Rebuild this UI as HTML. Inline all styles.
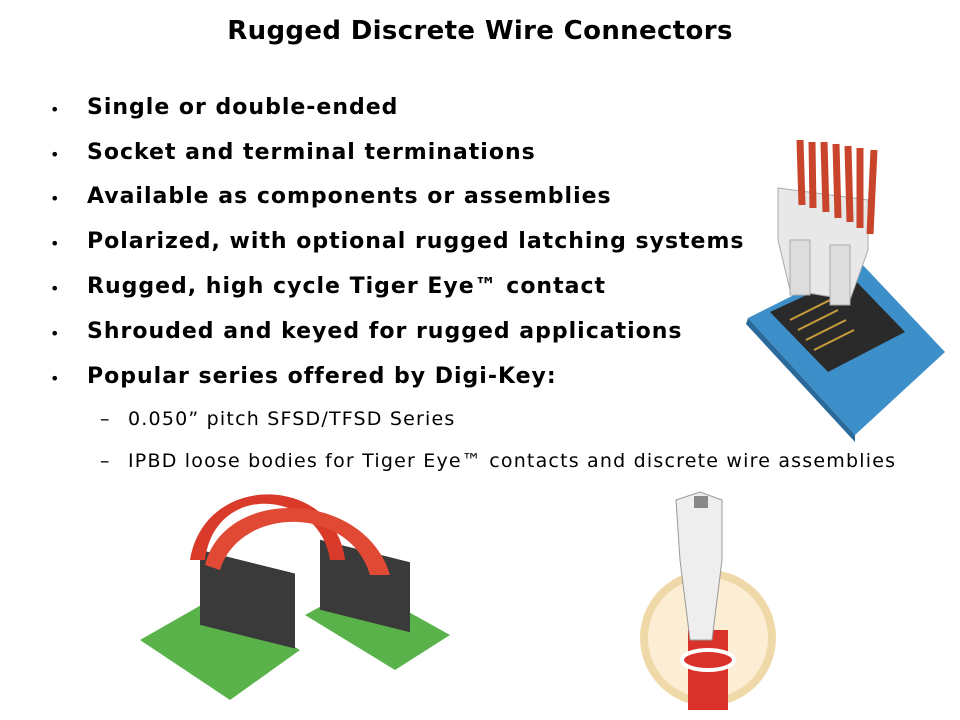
<!DOCTYPE html>
<html><head><meta charset="utf-8"><style>
html,body{margin:0;padding:0;background:#fff;}
body{width:960px;height:720px;position:relative;overflow:hidden;font-family:"DejaVu Sans","Liberation Sans",sans-serif;color:#000;}
.t{position:absolute;left:0;width:960px;text-align:center;top:16px;font-size:26px;font-weight:bold;letter-spacing:0.35px;}
.b{position:absolute;left:87px;font-size:22px;font-weight:bold;white-space:nowrap;letter-spacing:1px;}
.d{position:absolute;left:50px;font-size:16px;}
.s{position:absolute;left:128px;font-size:19px;white-space:nowrap;letter-spacing:1.2px;}
.sd{position:absolute;left:100px;font-size:19px;}
svg{position:absolute;left:0;top:0;}
</style></head><body>
<svg width="960" height="720">
 <polygon points="748,318 860,262 945,352 855,435" fill="#3d8fc9"/>
 <polygon points="748,318 855,435 855,442 746,324" fill="#2a6a9a"/>
 <polygon points="770,312 850,275 905,332 828,372" fill="#2a2a2a"/>
 <g stroke="#c9a040" stroke-width="2">
  <line x1="790" y1="320" x2="830" y2="300"/><line x1="798" y1="330" x2="838" y2="310"/>
  <line x1="806" y1="340" x2="846" y2="320"/><line x1="814" y1="350" x2="854" y2="330"/>
 </g>
 <polygon points="778,188 868,200 868,250 850,300 790,290 778,240" fill="#e8e8e8" stroke="#aaa"/>
 <rect x="790" y="240" width="20" height="55" fill="#ddd" stroke="#aaa"/>
 <rect x="830" y="245" width="20" height="60" fill="#ddd" stroke="#aaa"/>
 <g stroke="#c8442a" stroke-width="7">
  <line x1="800" y1="140" x2="802" y2="205"/><line x1="812" y1="142" x2="813" y2="208"/>
  <line x1="824" y1="142" x2="826" y2="212"/><line x1="836" y1="144" x2="838" y2="218"/>
  <line x1="848" y1="146" x2="850" y2="222"/><line x1="860" y1="148" x2="860" y2="228"/>
  <line x1="874" y1="150" x2="870" y2="234"/>
 </g>
 <polygon points="140,640 210,600 300,650 230,700" fill="#5ab34a"/>
 <polygon points="305,615 360,585 450,635 395,670" fill="#5ab34a"/>
 <rect x="200" y="555" width="95" height="75" fill="#3a3a3a" transform="skewY(14) translate(0,-55)"/>
 <rect x="320" y="545" width="90" height="70" fill="#3a3a3a" transform="skewY(14) translate(0,-85)"/>
 <path d="M205,560 C215,480 320,490 330,560 L345,560 C335,475 205,470 190,560 Z" fill="#d93a2a"/>
 <path d="M220,570 C240,505 350,505 370,575 L390,575 C365,490 225,485 205,565 Z" fill="#e04a35"/>
 <circle cx="708" cy="638" r="68" fill="#f0d9a8"/>
 <circle cx="708" cy="638" r="60" fill="#fbeed5"/>
 <rect x="688" y="630" width="40" height="80" fill="#d8322a"/>
 <ellipse cx="708" cy="660" rx="26" ry="10" fill="#d8322a" stroke="#fff" stroke-width="4"/>
 <polygon points="676,500 700,492 722,500 722,560 712,640 690,640 680,560" fill="#eeeeee" stroke="#999"/>
 <rect x="694" y="496" width="14" height="12" fill="#888"/>
</svg>
<div class="t">Rugged Discrete Wire Connectors</div>
<div class="d" style="top:100px">•</div><div class="b" style="top:95px">Single or double-ended</div>
<div class="d" style="top:145px">•</div><div class="b" style="top:140px">Socket and terminal terminations</div>
<div class="d" style="top:189px">•</div><div class="b" style="top:184px">Available as components or assemblies</div>
<div class="d" style="top:234px">•</div><div class="b" style="top:229px">Polarized, with optional rugged latching systems</div>
<div class="d" style="top:279px">•</div><div class="b" style="top:274px">Rugged, high cycle Tiger Eye™ contact</div>
<div class="d" style="top:324px">•</div><div class="b" style="top:319px">Shrouded and keyed for rugged applications</div>
<div class="d" style="top:369px">•</div><div class="b" style="top:364px">Popular series offered by Digi-Key:</div>
<div class="sd" style="top:408px">–</div><div class="s" style="top:408px">0.050” pitch SFSD/TFSD Series</div>
<div class="sd" style="top:450px">–</div><div class="s" style="top:450px">IPBD loose bodies for Tiger Eye™ contacts and discrete wire assemblies</div>
</body></html>
